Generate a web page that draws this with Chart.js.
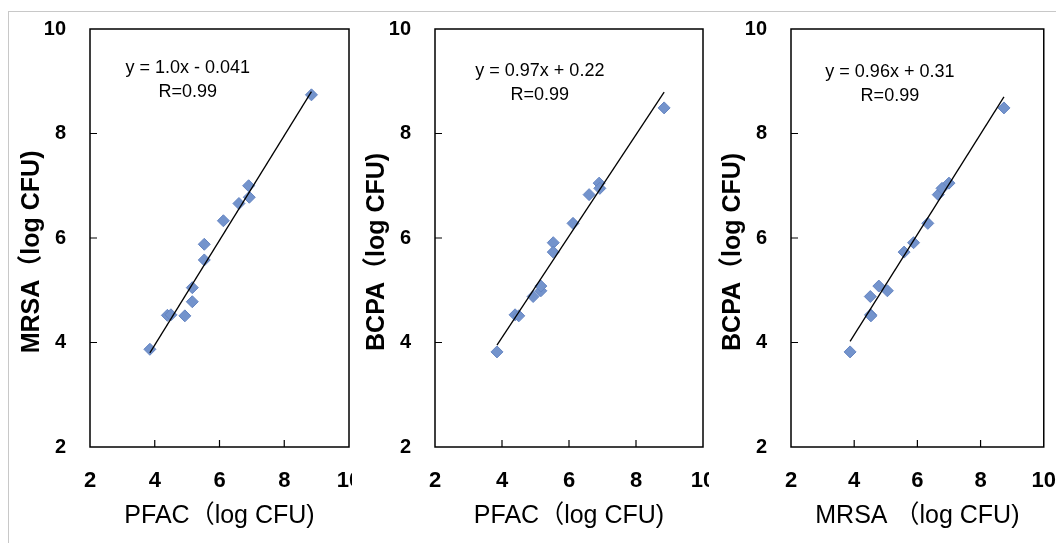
<!DOCTYPE html>
<html lang="en">
<head>
<meta charset="UTF-8">
<title>log CFU comparison</title>
<style>
  html, body { margin: 0; padding: 0; background: #fff; }
  body { width: 1056px; height: 543px; position: relative; overflow: hidden; }
  .frame {
    position: absolute; left: 8px; top: 11px; width: 1100px; height: 600px;
    border-top: 1px solid #c8c8c8; border-left: 1px solid #c8c8c8;
  }
  .panel { position: absolute; top: 12px; height: 531px; background: #fff; }
  .panel canvas { display: block; }
</style>
</head>
<body>
<div class="frame"></div>
<div class="panel" style="left:9px;width:380px"><canvas id="c1" width="380" height="531"></canvas></div>
<div class="panel" style="left:352px;width:380px"><canvas id="c2" width="380" height="531"></canvas></div>
<div class="panel" style="left:709px;width:347px"><canvas id="c3" width="347" height="531"></canvas></div>

<script src="https://cdn.jsdelivr.net/npm/chart.js@4.4.0/dist/chart.umd.min.js"></script>
<script>
// 13 samples, counts in log CFU
const pfac = [3.85, 4.39, 4.50, 4.93, 5.16, 5.16, 5.53, 5.53, 6.12, 6.60, 6.90, 6.92, 8.84];
const mrsa = [3.87, 4.52, 4.53, 4.51, 5.05, 4.78, 5.88, 5.58, 6.33, 6.66, 7.00, 6.78, 8.74];
const bcpa = [3.82, 4.53, 4.51, 4.88, 4.99, 5.08, 5.91, 5.73, 6.28, 6.83, 7.05, 6.95, 8.49];

// fitted line end points
const fitX = [[3.85, 8.84], [3.85, 8.84], [3.87, 8.74]];
const fitY = [[3.80, 8.80], [3.95, 8.79], [4.02, 8.70]];

const eqText = ['y = 1.0x - 0.041', 'y = 0.97x + 0.22', 'y = 0.96x + 0.31'];
const rText = ['R=0.99', 'R=0.99', 'R=0.99'];
const xTitles = ['PFAC（log CFU)', 'PFAC（log CFU)', 'MRSA （log CFU)'];
const yTitles = ['MRSA（log CFU)    ', 'BCPA（log CFU)    ', 'BCPA（log CFU)    '];
const tickValues = [2, 4, 6, 8, 10];

const FONT = '"Liberation Sans", Arial, "Noto Sans CJK JP", sans-serif';

const panels = [
  { id: 'c1', xs: pfac, ys: mrsa, padLeft: 8,  padRight: 40, eqX: 5.02, eqY: 9.26, rY: 8.79 },
  { id: 'c2', xs: pfac, ys: bcpa, padLeft: 10, padRight: 29, eqX: 5.13, eqY: 9.19, rY: 8.74 },
  { id: 'c3', xs: mrsa, ys: bcpa, padLeft: 9,  padRight: 12, eqX: 5.13, eqY: 9.18, rY: 8.71 }
];

// box around plot area, inward tick marks, equation text
const framePlugin = {
  id: 'frame',
  afterDraw(chart, args, opts) {
    const { ctx, chartArea: a, scales } = chart;
    ctx.save();
    ctx.strokeStyle = '#000';
    ctx.lineWidth = 1.5;
    ctx.strokeRect(a.left, a.top, a.right - a.left, a.bottom - a.top);
    ctx.lineWidth = 1.2;
    ctx.beginPath();
    tickValues.slice(1, -1).forEach(v => {
      const px = scales.x.getPixelForValue(v);
      ctx.moveTo(px, a.bottom);
      ctx.lineTo(px, a.bottom - 7);
      const py = scales.y.getPixelForValue(v);
      ctx.moveTo(a.left, py);
      ctx.lineTo(a.left + 7, py);
    });
    ctx.stroke();

    ctx.fillStyle = '#000';
    ctx.font = '18px ' + FONT;
    ctx.textAlign = 'center';
    ctx.textBaseline = 'middle';
    const cx = scales.x.getPixelForValue(opts.eqX);
    ctx.fillText(opts.eq, cx, scales.y.getPixelForValue(opts.eqY));
    ctx.fillText(opts.r, cx, scales.y.getPixelForValue(opts.rY));
    ctx.restore();
  }
};

// invisible tick marks keep the labels away from the box without adding scale padding
const hiddenGrid = (len) => ({
  display: true,
  drawOnChartArea: false,
  drawTicks: true,
  tickLength: len,
  tickColor: 'rgba(0,0,0,0)'
});

panels.forEach((p, i) => {
  const points = p.xs.map((x, k) => ({ x: x, y: p.ys[k] }));
  const fit = fitX[i].map((x, k) => ({ x: x, y: fitY[i][k] }));

  new Chart(document.getElementById(p.id), {
    type: 'scatter',
    data: {
      datasets: [
        {
          label: 'fit',
          data: fit,
          showLine: true,
          borderColor: '#000',
          borderWidth: 1.3,
          pointRadius: 0,
          order: 0
        },
        {
          label: 'samples',
          data: points,
          pointStyle: 'rectRot',
          pointRadius: 6,
          pointHoverRadius: 6,
          backgroundColor: '#7393cc',
          borderColor: '#6585c2',
          borderWidth: 1,
          order: 1
        }
      ]
    },
    options: {
      responsive: false,
      animation: false,
      events: [],
      layout: { padding: { left: p.padLeft, right: p.padRight, top: 17, bottom: 4 } },
      plugins: {
        legend: { display: false },
        tooltip: { enabled: false },
        frame: { eq: eqText[i], r: rText[i], eqX: p.eqX, eqY: p.eqY, rY: p.rY }
      },
      scales: {
        x: {
          type: 'linear',
          min: 2, max: 10,
          afterFit: s => { s.height = 92; },
          grid: hiddenGrid(21),
          border: { display: false },
          ticks: {
            stepSize: 2,
            padding: 0,
            color: '#000',
            font: { family: FONT, size: 22, weight: 'bold' }
          },
          title: {
            display: true,
            text: xTitles[i],
            color: '#000',
            padding: { top: 0, bottom: 8 },
            font: { family: FONT, size: 25, weight: 'normal' }
          }
        },
        y: {
          type: 'linear',
          min: 2, max: 10,
          afterFit: s => { s.width = 73; },
          grid: hiddenGrid(24),
          border: { display: false },
          ticks: {
            stepSize: 2,
            padding: 0,
            color: '#000',
            font: { family: FONT, size: 20, weight: 'bold' }
          },
          title: {
            display: true,
            text: yTitles[i],
            color: '#000',
            padding: { top: 0, bottom: 0 },
            font: { family: FONT, size: 25, weight: 'bold' }
          }
        }
      }
    },
    plugins: [framePlugin]
  });
});
</script>
</body>
</html>
